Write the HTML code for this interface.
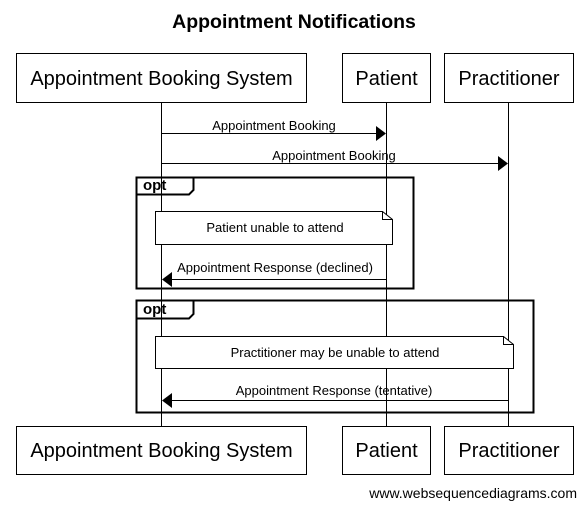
<!DOCTYPE html>
<html><head><meta charset="utf-8"><style>body{margin:0;background:#fff}</style></head><body>
<svg width="587" height="508" xmlns="http://www.w3.org/2000/svg" font-family="Liberation Sans, sans-serif">
<rect width="587" height="508" fill="#fff"/>
<text x="294" y="28" text-anchor="middle" font-size="19.5" font-weight="bold">Appointment Notifications</text>
<g stroke="#000" stroke-width="1" fill="none">
<line x1="161.5" y1="102" x2="161.5" y2="426"/>
<line x1="386.5" y1="102" x2="386.5" y2="426"/>
<line x1="508.5" y1="102" x2="508.5" y2="426"/>
<rect x="16.5" y="53.5" width="290" height="49" fill="#fff"/>
<rect x="342.5" y="53.5" width="88" height="49" fill="#fff"/>
<rect x="444.5" y="53.5" width="129" height="49" fill="#fff"/>
<rect x="16.5" y="426.5" width="290" height="48" fill="#fff"/>
<rect x="342.5" y="426.5" width="88" height="48" fill="#fff"/>
<rect x="444.5" y="426.5" width="129" height="48" fill="#fff"/>
<line x1="161" y1="133.5" x2="376" y2="133.5"/>
<line x1="161" y1="163.5" x2="498" y2="163.5"/>
<rect x="136.5" y="177.5" width="277" height="111" stroke-width="2"/>
<path d="M136.5 194.5 H189 L193.5 190 V177.5" stroke-width="2"/>
<path d="M155.5 211.5 H382.5 L392.5 219.5 V244.5 H155.5 Z" fill="#fff"/>
<path d="M382.5 211.5 V219.5 H392.5"/>
<line x1="172" y1="279.5" x2="386" y2="279.5"/>
<rect x="136.5" y="300.5" width="397" height="112" stroke-width="2"/>
<path d="M136.5 318.5 H189 L193.5 314 V300.5" stroke-width="2"/>
<path d="M155.5 336.5 H503.5 L513.5 344.5 V368.5 H155.5 Z" fill="#fff"/>
<path d="M503.5 336.5 V344.5 H513.5"/>
<line x1="172" y1="400.5" x2="508" y2="400.5"/>
</g>
<g fill="#000">
<polygon points="376,126 386,133.5 376,141"/>
<polygon points="498,156 508,163.5 498,171"/>
<polygon points="172,272 162,279.5 172,287"/>
<polygon points="172,393 162,400.5 172,408"/>
</g>
<g font-size="20" text-anchor="middle">
<text x="161.5" y="85">Appointment Booking System</text>
<text x="386.5" y="85">Patient</text>
<text x="509" y="85">Practitioner</text>
<text x="161.5" y="457">Appointment Booking System</text>
<text x="386.5" y="457">Patient</text>
<text x="509" y="457">Practitioner</text>
</g>
<g font-size="13" text-anchor="middle">
<text x="274" y="130">Appointment Booking</text>
<text x="334" y="160">Appointment Booking</text>
<text x="275" y="232">Patient unable to attend</text>
<text x="275" y="272">Appointment Response (declined)</text>
<text x="335" y="357">Practitioner may be unable to attend</text>
<text x="334" y="395">Appointment Response (tentative)</text>
</g>
<g font-size="15" font-weight="bold">
<text x="143" y="190">opt</text>
<text x="143" y="314">opt</text>
</g>
<text x="577" y="498" text-anchor="end" font-size="14">www.websequencediagrams.com</text>
</svg>
</body></html>
